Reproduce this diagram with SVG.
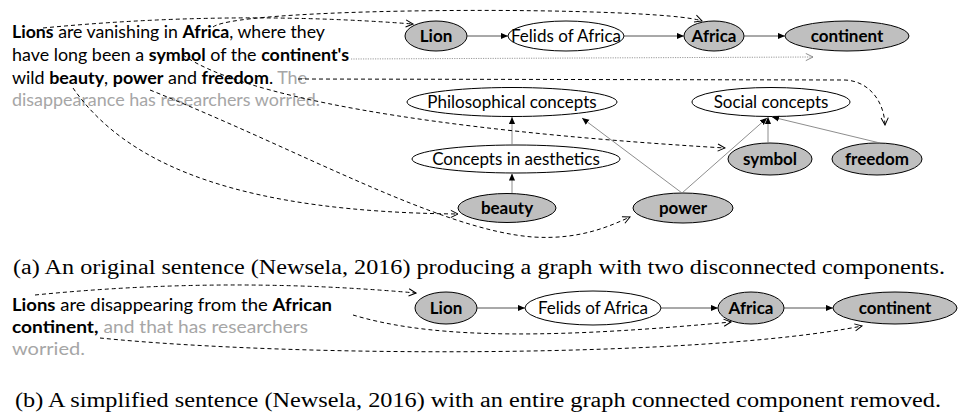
<svg xmlns="http://www.w3.org/2000/svg" width="959" height="414" viewBox="0 0 959 414">
<style>
  .t{font-family:Lato,"Open Sans","Liberation Sans",sans-serif;font-size:16.5px;fill:#000}
  .b{font-weight:bold}
  .g{fill:#a6a6a6}
  .cap{font-family:"Liberation Serif","Times New Roman",serif;font-size:20.5px;fill:#000}
  .nl{font-family:Lato,"Open Sans","Liberation Sans",sans-serif;font-size:17px;fill:#000;text-anchor:middle}
  .nb{font-weight:bold}
  .gn{fill:#bfbfbf;stroke:#000;stroke-width:1}
  .wn{fill:#fff;stroke:#000;stroke-width:1}
  .sl{fill:none;stroke:#404040;stroke-width:0.9;marker-end:url(#fa)}
  .sg{fill:none;stroke:#808080;stroke-width:0.9;marker-end:url(#fa)}
  .dl{fill:none;stroke:#000;stroke-width:1;stroke-dasharray:4 3;marker-end:url(#oa)}
  .dt{fill:none;stroke:#808080;stroke-width:0.8;stroke-dasharray:1.2 1.2;marker-end:url(#og)}
</style>
<defs>
  <marker id="fa" viewBox="0 0 8 8" refX="8" refY="4" markerWidth="7" markerHeight="7" markerUnits="userSpaceOnUse" orient="auto">
    <path d="M0,0.5 L8,4 L0,7.5 Z" fill="#000"/>
  </marker>
  <marker id="oa" viewBox="0 0 10 10" refX="9" refY="5" markerWidth="9" markerHeight="9" markerUnits="userSpaceOnUse" orient="auto">
    <path d="M1,1 L9,5 L1,9" fill="none" stroke="#000" stroke-width="1.1"/>
  </marker>
  <marker id="og" viewBox="0 0 10 10" refX="9" refY="5" markerWidth="9" markerHeight="9" markerUnits="userSpaceOnUse" orient="auto">
    <path d="M1,1 L9,5 L1,9" fill="none" stroke="#808080" stroke-width="1"/>
  </marker>
</defs>

<!-- sentence (a) -->
<g id="sentence-a">
  <text class="t" x="12" y="38" textLength="313" lengthAdjust="spacingAndGlyphs"><tspan class="b">Lions</tspan> are vanishing in <tspan class="b">Africa</tspan>, where they</text>
  <text class="t" x="12" y="61" textLength="337" lengthAdjust="spacingAndGlyphs">have long been a <tspan class="b">symbol</tspan> of the <tspan class="b">continent's</tspan></text>
  <text class="t" x="12" y="84" textLength="295" lengthAdjust="spacingAndGlyphs">wild <tspan class="b">beauty</tspan>, <tspan class="b">power</tspan> and <tspan class="b">freedom</tspan>. <tspan class="g">The</tspan></text>
  <text class="t g" x="12" y="106" textLength="308" lengthAdjust="spacingAndGlyphs">disappearance has researchers worried.</text>
</g>

<!-- graph (a) nodes -->
<g id="a-lion"><ellipse class="gn" cx="436" cy="36" rx="31" ry="15"/><text class="nl nb" x="436" y="42">Lion</text></g>
<g id="a-felids"><ellipse class="wn" cx="566" cy="36" rx="58" ry="15"/><text class="nl" x="566" y="42">Felids of Africa</text></g>
<g id="a-africa"><ellipse class="gn" cx="714" cy="36" rx="30" ry="15"/><text class="nl nb" x="714" y="42">Africa</text></g>
<g id="a-continent"><ellipse class="gn" cx="847" cy="36" rx="62" ry="15"/><text class="nl nb" x="847" y="42">continent</text></g>
<g id="a-philosophical"><ellipse class="wn" cx="512" cy="102" rx="105" ry="14.5"/><text class="nl" x="512" y="108">Philosophical concepts</text></g>
<g id="a-social"><ellipse class="wn" cx="771" cy="102" rx="79" ry="14.5"/><text class="nl" x="771" y="108">Social concepts</text></g>
<g id="a-aesthetics"><ellipse class="wn" cx="516" cy="159" rx="104" ry="14"/><text class="nl" x="516" y="165">Concepts in aesthetics</text></g>
<g id="a-symbol"><ellipse class="gn" cx="770" cy="159" rx="42" ry="16"/><text class="nl nb" x="770" y="165">symbol</text></g>
<g id="a-freedom"><ellipse class="gn" cx="877" cy="159" rx="45" ry="16"/><text class="nl nb" x="877" y="165">freedom</text></g>
<g id="a-beauty"><ellipse class="gn" cx="507" cy="208" rx="49" ry="14.5"/><text class="nl nb" x="507" y="214">beauty</text></g>
<g id="a-power"><ellipse class="gn" cx="683" cy="208" rx="50" ry="15"/><text class="nl nb" x="683" y="214">power</text></g>

<!-- caption a -->
<text id="caption-a" class="cap" x="13" y="274" textLength="932" lengthAdjust="spacingAndGlyphs">(a) An original sentence (Newsela, 2016) producing a graph with two disconnected components.</text>

<!-- sentence (b) -->
<g id="sentence-b">
  <text class="t" x="12" y="311" textLength="320" lengthAdjust="spacingAndGlyphs"><tspan class="b">Lions</tspan> are disappearing from the <tspan class="b">African</tspan></text>
  <text class="t" x="12" y="333" textLength="296" lengthAdjust="spacingAndGlyphs"><tspan class="b">continent,</tspan><tspan class="g"> and that has researchers</tspan></text>
  <text class="t g" x="12" y="355" textLength="73" lengthAdjust="spacingAndGlyphs">worried.</text>
</g>

<!-- graph (b) nodes -->
<g id="b-lion"><ellipse class="gn" cx="446" cy="308" rx="31" ry="16"/><text class="nl nb" x="446" y="314">Lion</text></g>
<g id="b-felids"><ellipse class="wn" cx="593" cy="308" rx="68" ry="17"/><text class="nl" x="593" y="314">Felids of Africa</text></g>
<g id="b-africa"><ellipse class="gn" cx="751" cy="308" rx="33" ry="16"/><text class="nl nb" x="751" y="314">Africa</text></g>
<g id="b-continent"><ellipse class="gn" cx="895" cy="308" rx="62" ry="16"/><text class="nl nb" x="895" y="314">continent</text></g>

<!-- caption b -->
<text id="caption-b" class="cap" x="15" y="407" textLength="926" lengthAdjust="spacingAndGlyphs">(b) A simplified sentence (Newsela, 2016) with an entire graph connected component removed.</text>

<g id="connectors">
  <!-- graph a solid -->
  <path class="sl" d="M467,36 L508,36"/>
  <path class="sl" d="M624,36 L684,36"/>
  <path class="sl" d="M744,36 L785,36"/>
  <path class="sg" d="M512,193 L512,173.5"/>
  <path class="sg" d="M512,145 L512,117"/>
  <path class="sg" d="M682,193 L582,118"/>
  <path class="sg" d="M682,193 L767,118"/>
  <path class="sg" d="M768,143 L768,117"/>
  <path class="sg" d="M880,143 L772,117"/>
  <!-- graph a dashed -->
  <path class="dl" d="M43,28 Q230,10 413,24"/>
  <path class="dl" d="M213,27 C240,6 660,6 702,21"/>
  <path class="dt" d="M351,59 L813,57"/>
  <path class="dl" d="M298,79 L845,80 C868,81 884,100 885,125"/>
  <path class="dl" d="M183,55 C240,95 420,130 725,148"/>
  <path class="dl" d="M73,88 C130,170 250,212 458,214"/>
  <path class="dl" d="M150,90 C300,150 440,230 533,237 C580,240 610,226 630,217"/>
  <!-- graph b solid -->
  <path class="sl" d="M477,308 L525,308"/>
  <path class="sl" d="M661,308 L718,308"/>
  <path class="sl" d="M784,308 L833,308"/>
  <!-- graph b dashed -->
  <path class="dl" d="M35,295 Q225,276 416,293"/>
  <path class="dl" d="M353,315 C420,335 520,342 731,322"/>
  <path class="dl" d="M100,338 C300,358 700,358 862,326"/>
</g>
</svg>
